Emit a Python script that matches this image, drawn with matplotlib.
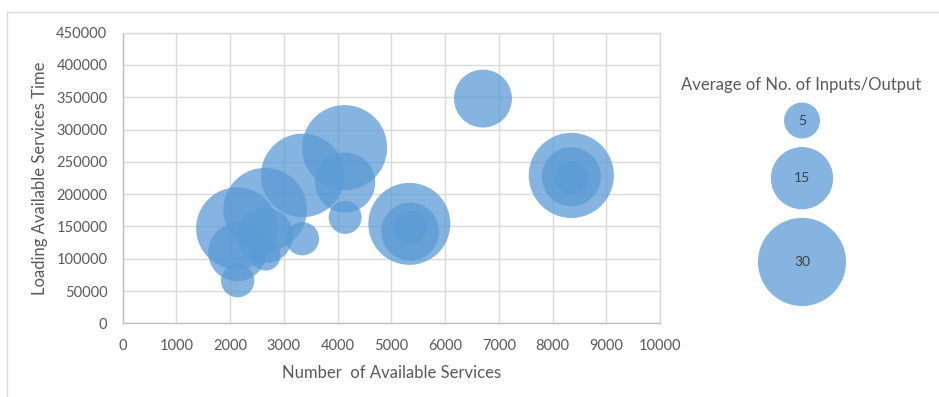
import numpy as np
import matplotlib.pyplot as plt
from matplotlib.patches import Rectangle

plt.rcParams['font.family'] = ['Lato', 'DejaVu Sans']

# services vs loading time, bubble = average number of inputs/outputs
services = [2130, 2130, 2140, 2650, 2650, 2660, 3350, 3345, 4130,
            4140, 4140, 5335, 5350, 5350, 6705, 8350, 8350, 8355]
load_time = [147000, 110000, 66000, 176000, 136000, 105000, 229000, 131000, 272000,
             218000, 164000, 154000, 142000, 148000, 348000, 229000, 227000, 225000]
avg_io = [26, 13, 4.3, 27, 12, 3.5, 27, 4.3, 28,
          14, 4.2, 26, 13, 4.3, 13, 28, 13.5, 4.3]

legend_vals = [5, 15, 30]
legend_title = 'Average of No. of Inputs/Output'

BLUE = '#5B9BD5'
GREY_TXT = '#595959'
GRID = '#D9D9D9'
SIZE_SCALE = 134.0          # points^2 per unit of avg_io
PX_PER_UNIT = 8.05          # bubble radius in px for sqrt(1)

W, H = 939, 397
fig = plt.figure(figsize=(W / 100, H / 100), dpi=100)

# chart frame (top and left edges only show)
fig.add_artist(Rectangle((7 / W, -0.1), 2, (H - 12) / H + 0.1, transform=fig.transFigure,
                         fill=False, edgecolor=GRID, lw=0.9))

ax = fig.add_axes([122.7 / W, (H - 323.3) / H, (660 - 122.7) / W, (323.3 - 32.7) / H])
ax.scatter(services, load_time, s=np.array(avg_io) * SIZE_SCALE, color=BLUE,
           alpha=0.75, edgecolors='none', zorder=3)
ax.set_xlim(0, 10000)
ax.set_ylim(0, 450000)
ax.set_xticks(range(0, 10001, 1000))
ax.set_yticks(range(0, 450001, 50000))
ax.grid(True, color=GRID, lw=1.0, zorder=0)
ax.tick_params(length=0, labelsize=10.5, labelcolor=GREY_TXT)
ax.tick_params(axis='x', pad=11)
ax.tick_params(axis='y', pad=11)
for side, sp in ax.spines.items():
    sp.set_color('#BFBFBF' if side in ('left', 'bottom') else GRID)
    sp.set_linewidth(1.0)
ax.set_xlabel('Number  of Available Services', fontsize=12, color=GREY_TXT, labelpad=9)
ax.set_ylabel('Loading Available Services Time', fontsize=12, color=GREY_TXT, labelpad=6)

# size legend drawn as its own bubble column, in pixel units
lax = fig.add_axes([0, 0, 1, 1], facecolor='none')
lax.set_xlim(0, W)
lax.set_ylim(H, 0)
lax.axis('off')
lax.text(801, 85, legend_title, ha='center', va='center', fontsize=12, color=GREY_TXT)

cx = 802
top = 102.5
gap = 8.5
for v in legend_vals:
    r = PX_PER_UNIT * np.sqrt(v)
    cy = top + r
    lax.scatter([cx], [cy], s=v * SIZE_SCALE, color=BLUE, alpha=0.75, edgecolors='none')
    lax.text(cx, cy, str(v), ha='center', va='center', fontsize=10, color='#404040')
    top = cy + r + gap

fig.savefig('out.png', dpi=100)
